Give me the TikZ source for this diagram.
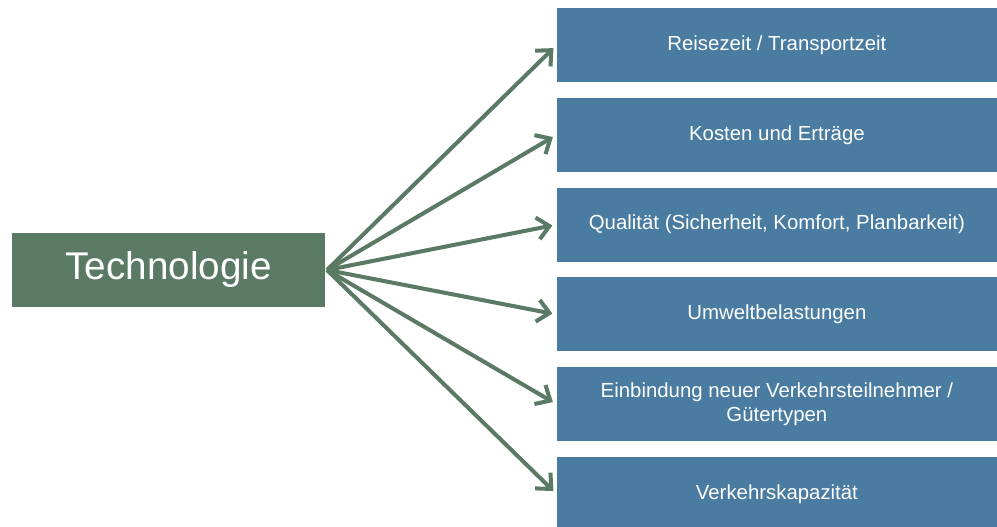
\documentclass[tikz,border=0pt]{standalone}
\usepackage{fontspec}
\setmainfont{Liberation Sans}
\usetikzlibrary{arrows.meta}
\definecolor{techgreen}{HTML}{5B7A65}
\definecolor{itemblue}{HTML}{4A7BA0}
\tikzset{
	techbox/.style={fill=techgreen, text=white, minimum width=6.26cm, minimum height=1.5cm, inner sep=0pt, font=\fontsize{22}{26}\selectfont},
	itembox/.style={fill=itemblue, text=white, minimum width=8.81cm, minimum height=1.48cm, inner sep=0pt, align=center, font=\fontsize{11.6}{13.5}\selectfont},
	pfeil/.style={->, techgreen, line width=2.3pt, shorten >=0.08cm}
}
\begin{document}
\begin{tikzpicture}[x=0.02cm, y=-0.02cm, >={Straight Barb[length=2.4mm, width=4.4mm]}]
			\useasboundingbox (0,0) rectangle (997,527);
			\node[techbox] (tech) at (168.5,270) {Technologie};
			\node[itembox] (reise) at (776.9,45.3) {Reisezeit / Transportzeit};
			\node[itembox] (kosten) at (776.9,135) {Kosten und  Erträge};
			\node[itembox] (quali) at (776.9,224.7) {Qualität (Sicherheit,  Komfort, Planbarkeit)};
			\node[itembox] (umwelt) at (776.9,314.4) {Umweltbelastungen};
			\node[itembox] (einb) at (776.9,404.1) {Einbindung  neuer  Verkehrsteilnehmer  /\\Gütertypen};
			\node[itembox] (kapa) at (776.9,493.8) {Verkehrskapazität};
			\coordinate (quelle) at (327,270);
			\foreach \ziel in {reise, kosten, quali, umwelt, einb, kapa}
				\draw[pfeil] (quelle) -- (\ziel.west);
		\end{tikzpicture}
\end{document}
